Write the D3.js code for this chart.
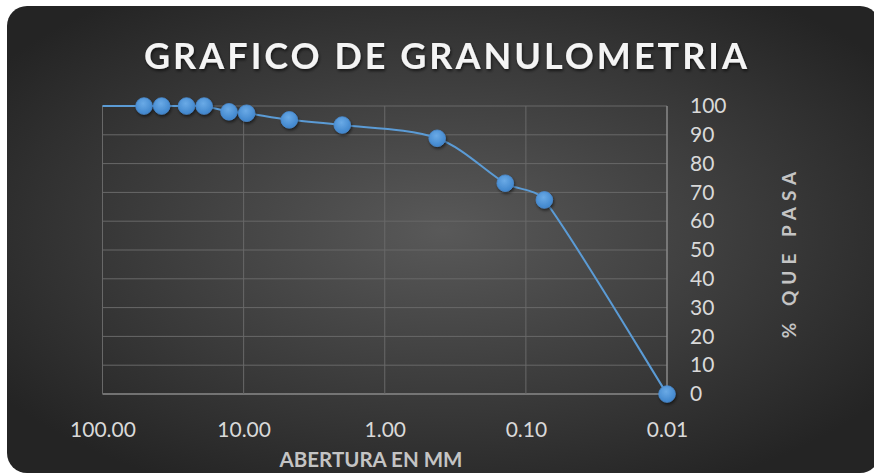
<!DOCTYPE html>
<html>
<head>
<meta charset="utf-8">
<script src="https://cdn.jsdelivr.net/npm/d3@7"></script>
<style>
  body { margin: 0; background: #ffffff; }
  svg { display: block; }
  .tick text { font-family: Lato, "Open Sans", sans-serif; }
</style>
</head>
<body>
<div id="chart"></div>
<script>
// tamices (abertura en mm) y porcentaje que pasa
var aberturas = [101.6, 50.8, 38.1, 25.4, 19.05, 12.7, 9.525, 4.75, 2.0, 0.425, 0.14, 0.074, 0.01];
var pasa = [100, 100, 100, 100, 100, 98, 97.5, 95.2, 93.4, 88.8, 73.2, 67.4, 0];
var xTicks = [100, 10, 1, 0.1, 0.01];
var xTickLabels = ["100.00", "10.00", "1.00", "0.10", "0.01"];
var yTicks = [0, 10, 20, 30, 40, 50, 60, 70, 80, 90, 100];

var W = 874, H = 473;
var plot = {left: 102.5, right: 667, top: 106, bottom: 394};

var data = aberturas.map(function (d, i) { return {a: d, p: pasa[i]}; });

var svg = d3.select("#chart").append("svg")
    .attr("width", W)
    .attr("height", H);

var defs = svg.append("defs");
var bg = defs.append("radialGradient").attr("id", "bg")
    .attr("cx", "50%").attr("cy", "48%").attr("r", "62%");
bg.append("stop").attr("offset", "0%").attr("stop-color", "#595959");
bg.append("stop").attr("offset", "100%").attr("stop-color", "#242424");

var mk = defs.append("radialGradient").attr("id", "mk")
    .attr("cx", "45%").attr("cy", "35%").attr("r", "65%");
mk.append("stop").attr("offset", "0%").attr("stop-color", "#6aaae6");
mk.append("stop").attr("offset", "100%").attr("stop-color", "#3f85cc");

var sh = defs.append("filter").attr("id", "sh")
    .attr("x", "-50%").attr("y", "-50%").attr("width", "200%").attr("height", "200%");
sh.append("feDropShadow").attr("dx", 1).attr("dy", 2).attr("stdDeviation", 1.5)
    .attr("flood-color", "#000").attr("flood-opacity", 0.55);

var tsh = defs.append("filter").attr("id", "tsh")
    .attr("x", "-10%").attr("y", "-30%").attr("width", "120%").attr("height", "160%");
tsh.append("feDropShadow").attr("dx", 1).attr("dy", 2).attr("stdDeviation", 1.5)
    .attr("flood-color", "#000").attr("flood-opacity", 0.6);

defs.append("clipPath").attr("id", "clip").append("rect")
    .attr("x", plot.left).attr("y", plot.top - 20)
    .attr("width", plot.right - plot.left).attr("height", plot.bottom - plot.top + 40);

// fondo
svg.append("rect")
    .attr("x", 7).attr("y", 6)
    .attr("width", 873).attr("height", 467)
    .attr("rx", 20).attr("ry", 20)
    .attr("fill", "url(#bg)");

var x = d3.scaleLog()
    .domain([100, 0.01])
    .range([plot.left, plot.right]);
var y = d3.scaleLinear()
    .domain([0, 100])
    .range([plot.bottom, plot.top]);

// rejilla
svg.append("g")
    .selectAll("line.h")
    .data(yTicks)
    .enter().append("line")
    .attr("x1", plot.left).attr("x2", plot.right)
    .attr("y1", function (d) { return y(d); })
    .attr("y2", function (d) { return y(d); })
    .attr("stroke", function (d) { return d === 0 ? "#8a8a8a" : "#686868"; })
    .attr("stroke-width", function (d) { return d === 0 ? 1.5 : 1; });

svg.append("g")
    .selectAll("line.v")
    .data(xTicks)
    .enter().append("line")
    .attr("x1", function (d) { return x(d); })
    .attr("x2", function (d) { return x(d); })
    .attr("y1", plot.top).attr("y2", plot.bottom)
    .attr("stroke", function (d) { return d === 0.01 ? "#8a8a8a" : "#686868"; })
    .attr("stroke-width", function (d) { return d === 0.01 ? 1.5 : 1; });

// ejes
var xAxis = svg.append("g")
    .attr("transform", "translate(0," + plot.bottom + ")")
    .call(d3.axisBottom(x).tickValues(xTicks)
        .tickFormat(function (d, i) { return xTickLabels[i]; })
        .tickSize(0).tickPadding(28));
xAxis.select(".domain").remove();
xAxis.selectAll("text").attr("fill", "#d9d9d9").attr("font-size", 21);

var yAxis = svg.append("g")
    .attr("transform", "translate(" + plot.right + ",0)")
    .call(d3.axisRight(y).tickValues(yTicks).tickSize(0).tickPadding(23));
yAxis.select(".domain").remove();
yAxis.selectAll("text").attr("fill", "#d9d9d9").attr("font-size", 21);

// curva suavizada tipo excel (bezier con puntos de control limitados)
function smoothPath(pts) {
    var p = d3.path();
    p.moveTo(pts[0][0], pts[0][1]);
    for (var i = 0; i < pts.length - 1; i++) {
        var p0 = pts[i - 1] || pts[i], p1 = pts[i], p2 = pts[i + 1], p3 = pts[i + 2] || pts[i + 1];
        var seg = Math.hypot(p2[0] - p1[0], p2[1] - p1[1]);
        var d1 = [(p2[0] - p0[0]) / 6, (p2[1] - p0[1]) / 6];
        var d2 = [(p3[0] - p1[0]) / 6, (p3[1] - p1[1]) / 6];
        var l1 = Math.hypot(d1[0], d1[1]), l2 = Math.hypot(d2[0], d2[1]);
        var k1 = l1 > seg / 3 ? seg / 3 / l1 : 1;
        var k2 = l2 > seg / 3 ? seg / 3 / l2 : 1;
        p.bezierCurveTo(p1[0] + d1[0] * k1, p1[1] + d1[1] * k1,
            p2[0] - d2[0] * k2, p2[1] - d2[1] * k2, p2[0], p2[1]);
    }
    return p.toString();
}

var pts = data.map(function (d) { return [x(d.a), y(d.p)]; });

svg.append("path")
    .attr("clip-path", "url(#clip)")
    .attr("d", smoothPath(pts))
    .attr("fill", "none")
    .attr("stroke", "#5b9bd5")
    .attr("stroke-width", 2);

svg.append("g")
    .selectAll("circle")
    .data(data.filter(function (d) { return d.a <= 100; }))
    .enter().append("circle")
    .attr("cx", function (d) { return x(d.a); })
    .attr("cy", function (d) { return y(d.p); })
    .attr("r", 8.3)
    .attr("fill", "url(#mk)")
    .attr("stroke", "#4a8bd0")
    .attr("stroke-width", 0.8)
    .attr("filter", "url(#sh)");

// titulos
svg.append("text")
    .attr("x", 447).attr("y", 69)
    .attr("text-anchor", "middle")
    .attr("font-family", "Lato, sans-serif")
    .attr("font-weight", "bold")
    .attr("font-size", 36)
    .attr("letter-spacing", 3)
    .attr("fill", "#f4f4f4")
    .attr("filter", "url(#tsh)")
    .text("GRAFICO DE GRANULOMETRIA");

svg.append("text")
    .attr("x", 371).attr("y", 467)
    .attr("text-anchor", "middle")
    .attr("font-family", "Lato, sans-serif")
    .attr("font-weight", "bold")
    .attr("font-size", 20.5)
    .attr("fill", "#c4c4c4")
    .text("ABERTURA EN MM");

svg.append("text")
    .attr("transform", "translate(796,252) rotate(-90)")
    .attr("text-anchor", "middle")
    .attr("font-family", "Lato, sans-serif")
    .attr("font-weight", "bold")
    .attr("font-size", 19)
    .attr("letter-spacing", 6)
    .attr("fill", "#c4c4c4")
    .text("% QUE PASA");
</script>
</body>
</html>
